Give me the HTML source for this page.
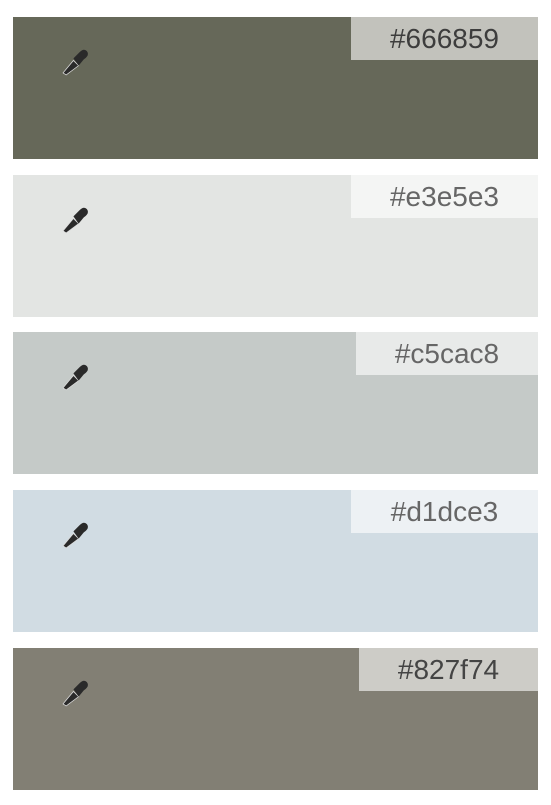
<!DOCTYPE html>
<html><head><style>
body{margin:0;width:551px;height:805px;background:#fff;position:relative;font-family:"Liberation Sans",sans-serif;overflow:hidden}
.sw{position:absolute;left:13px;width:525px;height:142px}
.lb{position:absolute;top:0;right:0;height:43px;background:rgba(255,255,255,0.6);font-size:28px;line-height:43px;text-align:center;color:#555}
.ic{position:absolute;left:49px;top:30px;width:27px;height:29px}
</style></head><body>
<div class="sw" style="top:17px;background:#666859"><svg class="ic" viewBox="0 0 26 28"><path d="M1 25 L11 13 L16 18 L4 27 Z" fill="#2a2a2a" stroke="#ddd" stroke-width="0.7"/><path d="M11 11 L17 5 Q21 1 24 4 Q27 8 21 12 L16 18 Z" fill="#2a2a2a"/></svg><div class="lb" style="width:187px;color:#3d3d3d">#666859</div></div>
<div class="sw" style="top:175px;background:#e3e5e3"><svg class="ic" viewBox="0 0 26 28"><path d="M1 25 L11 13 L16 18 L4 27 Z" fill="#2a2a2a" stroke="#ddd" stroke-width="0.7"/><path d="M11 11 L17 5 Q21 1 24 4 Q27 8 21 12 L16 18 Z" fill="#2a2a2a"/></svg><div class="lb" style="width:187px;color:#666">#e3e5e3</div></div>
<div class="sw" style="top:332px;background:#c5cac8"><svg class="ic" viewBox="0 0 26 28"><path d="M1 25 L11 13 L16 18 L4 27 Z" fill="#2a2a2a" stroke="#ddd" stroke-width="0.7"/><path d="M11 11 L17 5 Q21 1 24 4 Q27 8 21 12 L16 18 Z" fill="#2a2a2a"/></svg><div class="lb" style="width:182px;color:#666">#c5cac8</div></div>
<div class="sw" style="top:490px;background:#d1dce3"><svg class="ic" viewBox="0 0 26 28"><path d="M1 25 L11 13 L16 18 L4 27 Z" fill="#2a2a2a" stroke="#ddd" stroke-width="0.7"/><path d="M11 11 L17 5 Q21 1 24 4 Q27 8 21 12 L16 18 Z" fill="#2a2a2a"/></svg><div class="lb" style="width:187px;color:#666">#d1dce3</div></div>
<div class="sw" style="top:648px;background:#827f74"><svg class="ic" viewBox="0 0 26 28"><path d="M1 25 L11 13 L16 18 L4 27 Z" fill="#2a2a2a" stroke="#ddd" stroke-width="0.7"/><path d="M11 11 L17 5 Q21 1 24 4 Q27 8 21 12 L16 18 Z" fill="#2a2a2a"/></svg><div class="lb" style="width:179px;color:#444">#827f74</div></div>
</body></html>
